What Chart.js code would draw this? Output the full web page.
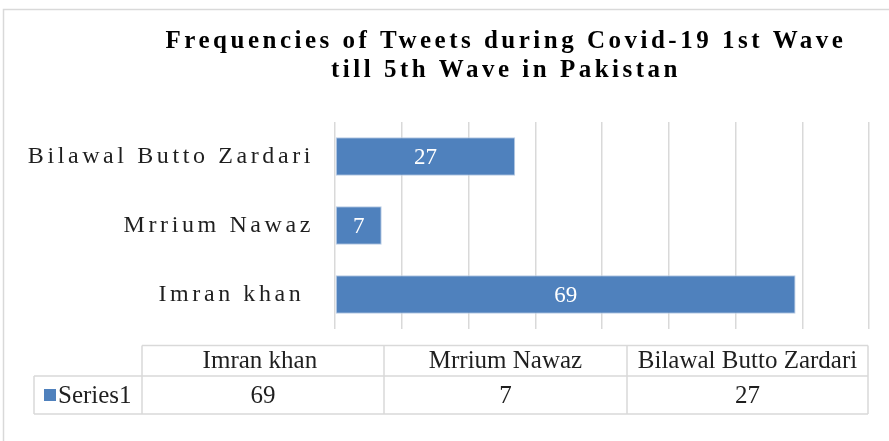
<!DOCTYPE html>
<html>
<head>
<meta charset="utf-8">
<script src="https://cdn.jsdelivr.net/npm/chart.js@4/dist/chart.umd.min.js"></script>
<style>
  html, body { margin: 0; padding: 0; background: #fff; }
</style>
</head>
<body>
<canvas id="chart" width="889" height="441"></canvas>
<script>
const titleLines = ["Frequencies of Tweets during Covid-19 1st Wave", "till 5th Wave in Pakistan"];
const candidates = ["Imran khan ", "Mrrium Nawaz", "Bilawal Butto Zardari"];
const tweetCounts = [69, 7, 27];
const seriesName = "Series1";
const axisMax = 80;
const axisStep = 10;

const serif = "'Liberation Serif', 'Times New Roman', serif";
const barBlue = "#4f81bd";
const lineGrey = "#d9d9d9";
const textDark = "#1f1f1f";

// title, data labels, spaced-out tick text, data table and outer frame
const excelLook = {
  id: "excelLook",
  beforeDraw(chart) {
    const ctx = chart.ctx;
    ctx.save();
    ctx.letterSpacing = "3.5px";
    ctx.fillStyle = "#000";
    ctx.font = "bold 25px " + serif;
    ctx.textAlign = "center";
    ctx.textBaseline = "middle";
    titleLines.forEach((line, i) => ctx.fillText(line, 506, 42 + i * 29));
    ctx.restore();
  },
  afterDatasetsDraw(chart) {
    const ctx = chart.ctx;
    const meta = chart.getDatasetMeta(0);
    ctx.save();
    ctx.fillStyle = "#fff";
    ctx.font = "23px " + serif;
    ctx.textAlign = "center";
    ctx.textBaseline = "middle";
    meta.data.forEach((bar, i) => {
      ctx.fillText(String(tweetCounts[i]), (bar.x + bar.base) / 2, bar.y + 1);
    });
    ctx.restore();
    ctx.letterSpacing = "3.6px"; // y tick labels are drawn next
  },
  afterDraw(chart) {
    const ctx = chart.ctx;
    ctx.letterSpacing = "0px";
    ctx.save();

    // outer frame
    ctx.strokeStyle = lineGrey;
    ctx.lineWidth = 1.5;
    ctx.strokeRect(3.5, 9.5, 1000, 1000);

    // data table
    const cols = [142, 384, 627, 868];
    const rowTop = 345.5, rowMid = 376, rowBot = 414, legendLeft = 34;
    ctx.beginPath();
    ctx.moveTo(cols[0], rowTop); ctx.lineTo(cols[3], rowTop);
    ctx.moveTo(legendLeft, rowMid); ctx.lineTo(cols[3], rowMid);
    ctx.moveTo(legendLeft, rowBot); ctx.lineTo(cols[3], rowBot);
    ctx.moveTo(legendLeft, rowMid); ctx.lineTo(legendLeft, rowBot);
    cols.forEach((x) => { ctx.moveTo(x, rowTop); ctx.lineTo(x, rowBot); });
    ctx.stroke();

    ctx.fillStyle = textDark;
    ctx.font = "25px " + serif;
    ctx.textAlign = "center";
    ctx.textBaseline = "middle";
    candidates.forEach((name, i) => {
      const cx = (cols[i] + cols[i + 1]) / 2;
      ctx.fillText(name, cx, (rowTop + rowMid) / 2 + 1);
      ctx.fillText(String(tweetCounts[i]), cx, (rowMid + rowBot) / 2 + 1);
    });

    ctx.fillStyle = barBlue;
    ctx.fillRect(44, 389, 12, 12);
    ctx.fillStyle = textDark;
    ctx.textAlign = "left";
    ctx.fillText(seriesName, 58, (rowMid + rowBot) / 2 + 1);
    ctx.restore();
  }
};

const chart = new Chart(document.getElementById("chart"), {
  type: "bar",
  data: {
    labels: candidates,
    datasets: [{
      label: seriesName,
      data: tweetCounts,
      backgroundColor: barBlue,
      borderColor: "#b8cce4",
      borderWidth: 1,
      borderSkipped: false,
      categoryPercentage: 0.56,
      barPercentage: 1
    }]
  },
  options: {
    indexAxis: "y",
    responsive: false,
    animation: false,
    devicePixelRatio: 1,
    layout: { padding: { left: 5, right: 20, top: 122, bottom: 112 } },
    plugins: {
      legend: { display: false },
      tooltip: { enabled: false },
      title: { display: false }
    },
    scales: {
      x: {
        min: 0,
        max: axisMax,
        ticks: { display: false, stepSize: axisStep },
        grid: { color: lineGrey, lineWidth: 1.5, drawTicks: false },
        border: { display: false },
        afterFit: (scale) => { scale.height = 0; }
      },
      y: {
        reverse: true,
        grid: { display: false, drawTicks: false },
        border: { display: false },
        ticks: { z: 1, color: textDark, padding: 21, font: { family: serif, size: 24 } },
        afterFit: (scale) => { scale.width = 330; }
      }
    }
  },
  plugins: [excelLook]
});
</script>
</body>
</html>
